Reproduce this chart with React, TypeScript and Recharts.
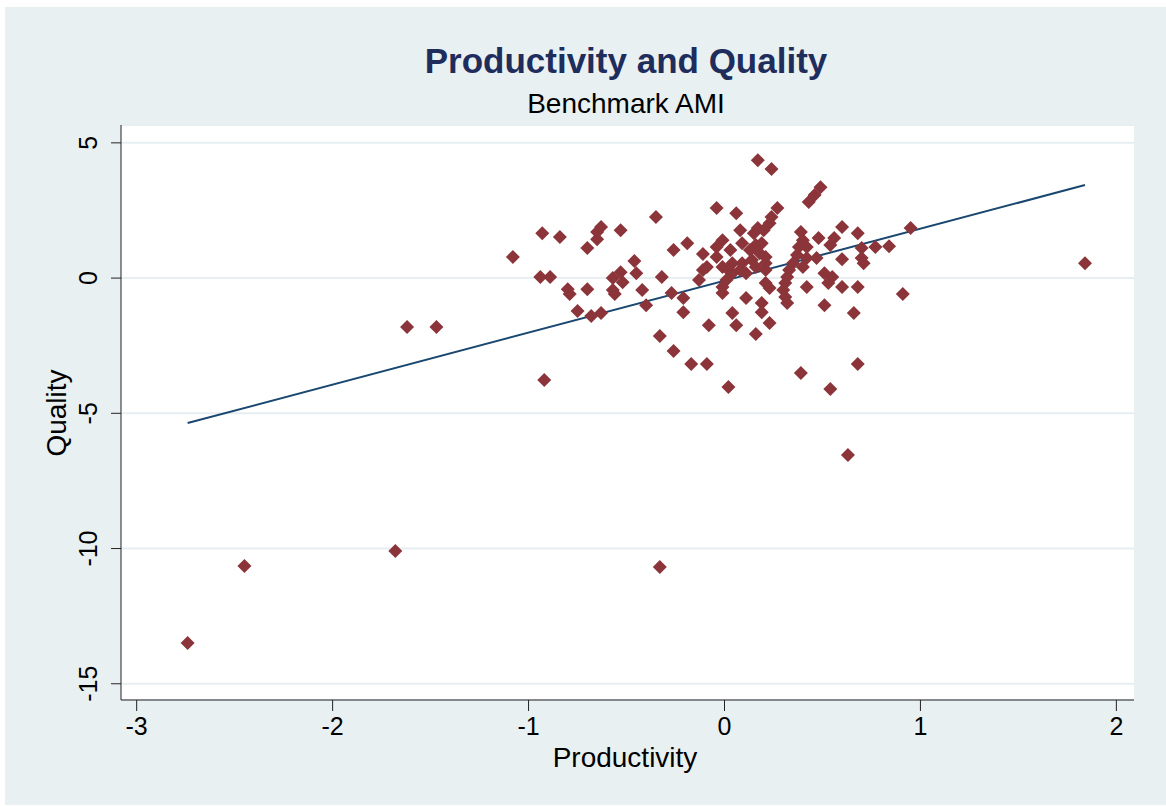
import React from 'react';
import { ScatterChart, Scatter, XAxis, YAxis, CartesianGrid } from 'recharts';

// hospital scores
const productivity = [
  -2.74, -2.45, -1.68, -0.33, -1.62, -1.47, -0.92, 1.84, 0.63, 0.68, 0.54, 0.39, 0.02,
  -0.33, -0.26, -0.17, -0.09, -0.08, 0.06, 0.16, 0.23, 0.95, 0.91, 0.84,
  -1.08, -0.93, -0.84, -0.70, -0.65, -0.65, -0.63, -0.53, -0.94, -0.89, -0.80, -0.79,
  -0.70, -0.75, -0.68, -0.63, -0.57, -0.53, -0.52, -0.57, -0.56, -0.46, -0.45, -0.42,
  -0.40, -0.35, -0.32, -0.27, -0.21, -0.21, -0.26, -0.19, -0.11, 0.04, 0.11, -0.09,
  -0.13, -0.04, 0.06, 0.17, 0.24, 0.43, 0.46, 0.49, 0.27, 0.24, 0.23, 0.20, 0.17,
  0.15, 0.08, -0.01, -0.04, 0.03, 0.09, 0.13, 0.16, 0.19, 0.18, 0.21, 0.14, 0.09,
  0.04, -0.01, -0.11, -0.01, -0.01, 0.04, 0.08, 0.11, 0.16, 0.21, 0.21, 0.23, 0.19,
  0.19, 0.39, 0.40, 0.38, 0.37, 0.35, 0.33, 0.32, 0.31, 0.30, 0.31, 0.32, 0.42, 0.42,
  0.42, 0.40, 0.48, 0.56, 0.60, 0.68, 0.54, 0.47, 0.60, 0.70, 0.70, 0.71, 0.77, 0.51,
  0.55, 0.53, 0.60, 0.68, 0.51, 0.66, -0.04, 0.02, 0.01, 0.21,
];
const quality = [
  -13.49, -10.65, -10.09, -10.68, -1.81, -1.81, -3.77, 0.55, -6.54, -3.18, -4.10, -3.51, -4.03,
  -2.14, -2.70, -3.18, -3.18, -1.74, -1.74, -2.07, -1.66, 1.85, -0.59, 1.18,
  0.78, 1.66, 1.52, 1.11, 1.70, 1.44, 1.89, 1.77, 0.04, 0.04, -0.41, -0.59,
  -0.41, -1.22, -1.40, -1.29, 0.00, 0.22, -0.15, -0.44, -0.59, 0.63, 0.18, -0.44,
  -1.00, 2.26, 0.04, -0.55, -0.74, -1.26, 1.04, 1.29, 0.89, -1.29, -0.74, 0.41,
  -0.07, 2.59, 2.40, 4.36, 4.03, 2.81, 3.07, 3.36, 2.59, 2.26, 2.03, 1.77, 1.85,
  1.66, 1.77, 1.40, 1.15, 1.04, 1.29, 1.04, 1.22, 1.29, 0.92, 0.78, 0.67, 0.55,
  0.55, 0.41, 0.30, -0.33, -0.55, 0.18, 0.30, 0.18, 0.41, 0.55, 0.30, -0.37, -0.92,
  -1.26, 1.70, 1.40, 1.15, 0.85, 0.55, 0.30, 0.04, -0.18, -0.44, -0.70, -0.92, 1.15, 0.74,
  -0.33, 0.41, 1.48, 1.48, 1.89, 1.66, 1.22, 0.74, 0.70, 1.11, 0.74, 0.55, 1.15, 0.18,
  0.04, -0.18, -0.33, -0.33, -1.00, -1.29, 0.78, 0.30, -0.07, -0.18,
];

// linear fit endpoints
const fitX = [-2.74, 1.84];
const fitY = [-5.36, 3.44];

const xTicks = [-3, -2, -1, 0, 1, 2];
const yTicks = [-15, -10, -5, 0, 5];

const points = productivity.map((p, i) => ({ x: p, y: quality[i] }));
const fit = fitX.map((p, i) => ({ x: p, y: fitY[i] }));

const FONT = '"Liberation Sans", Arial, sans-serif';

const Diamond = (props: any) => {
  const { cx, cy } = props;
  const r = 7;
  return <path d={`M${cx},${cy - r}L${cx + r},${cy}L${cx},${cy + r}L${cx - r},${cy}Z`} fill="#8B353B" />;
};

const YTick = (props: any) => {
  const { x, y, payload } = props;
  return (
    <text transform={`translate(${x - 14},${y}) rotate(-90)`} textAnchor="middle" fontSize={25} fontFamily={FONT} fill="#000">
      {payload.value}
    </text>
  );
};

export default function App() {
  return (
    <div style={{ position: 'absolute', left: 0, top: 0, width: 1166, height: 806, background: '#fff' }}>
      <div style={{ position: 'absolute', left: 5, top: 7, width: 1161, height: 798, background: '#E9F0F2' }} />
      <ScatterChart
        width={1166}
        height={806}
        margin={{ top: 125, right: 32, bottom: 46, left: 61 }}
        style={{ position: 'absolute', left: 0, top: 0 }}
      >
        <CartesianGrid vertical={false} stroke="#E6EEF2" strokeWidth={2} fill="#fff" />
        <XAxis
          type="number"
          dataKey="x"
          domain={[-3.08, 2.09]}
          ticks={xTicks}
          allowDataOverflow
          height={60}
          tickSize={11}
          tickMargin={6}
          stroke="#222"
          tick={{ fontSize: 25, fontFamily: FONT, fill: '#000' }}
        />
        <YAxis
          type="number"
          dataKey="y"
          domain={[-15.6, 5.66]}
          ticks={yTicks}
          allowDataOverflow
          width={60}
          tickSize={10}
          tickMargin={0}
          stroke="#222"
          tick={<YTick />}
        />
        <Scatter data={fit} line={{ stroke: '#1A476F', strokeWidth: 2 }} shape={() => <g />} isAnimationActive={false} />
        <Scatter data={points} shape={<Diamond />} isAnimationActive={false} />
      </ScatterChart>
      <svg width={1166} height={806} style={{ position: 'absolute', left: 0, top: 0, pointerEvents: 'none' }}>
        <text x={626} y={73} textAnchor="middle" fontSize={35} fontWeight="bold" fontFamily={FONT} fill="#1E2D5C">
          Productivity and Quality
        </text>
        <text x={626} y={113} textAnchor="middle" fontSize={28} fontFamily={FONT} fill="#000">
          Benchmark AMI
        </text>
        <text x={625} y={767} textAnchor="middle" fontSize={28} fontFamily={FONT} fill="#000">
          Productivity
        </text>
        <text transform="translate(66,413) rotate(-90)" textAnchor="middle" fontSize={28} fontFamily={FONT} fill="#000">
          Quality
        </text>
      </svg>
    </div>
  );
}
